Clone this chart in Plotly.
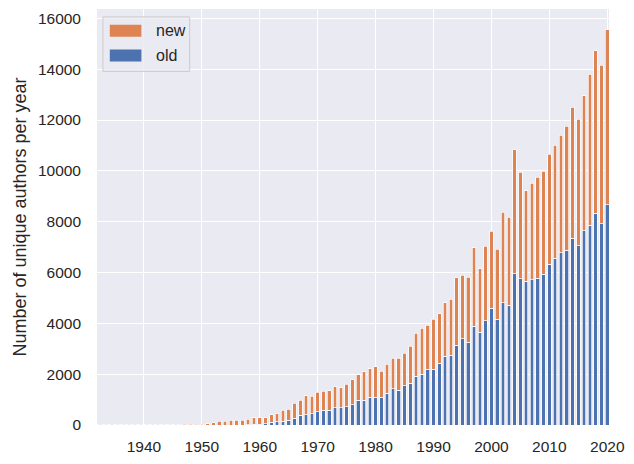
import plotly.graph_objects as go

years = list(range(1932, 2021))

old = [0]*26 + [
    10, 20, 25, 40, 100, 130, 155, 195, 260, 390,          # 1958-1967
    410, 440, 520, 580, 580, 670, 670, 720, 800, 970,       # 1968-1977
    970, 1100, 1100, 1100, 1240, 1420, 1360, 1550, 1650, 1910,  # 1978-1987
    1990, 2200, 2200, 2430, 2710, 2740, 3140, 3400, 3260, 3880,  # 1988-1997
    3650, 4110, 4590, 4160, 4820, 4710, 5960, 5750, 5650, 5720,  # 1998-2007
    5780, 5940, 6330, 6560, 6770, 6870, 7340, 7050, 7650, 7860,  # 2008-2017
    8330, 7920, 8660,                                            # 2018-2020
]

new = [
    3, 2, 4, 3, 5, 4, 6, 5, 8, 6,                # 1932-1941
    5, 4, 6, 10, 14, 20, 25, 30, 38, 55,         # 1942-1951
    90, 150, 155, 190, 195, 195,                 # 1952-1957
    210, 265, 255, 250, 310, 320, 425, 425, 590, 585,   # 1958-1967
    750, 700, 760, 750, 770, 840, 800, 880, 980, 1000,  # 1968-1977
    1120, 1120, 1190, 1020, 1150, 1210, 1260, 1280, 1450, 1710,  # 1978-1987
    1810, 1720, 1960, 1940, 2110, 2210, 2650, 2500, 2550, 3100,  # 1988-1997
    2490, 2930, 3030, 2750, 3560, 3460, 4870, 4200, 3560, 3800,  # 1998-2007
    3960, 4050, 4330, 4450, 4640, 4890, 5170, 4990, 5300, 5940,  # 2008-2017
    6400, 6230, 6890,                                            # 2018-2020
]

x_ticks = [1940, 1950, 1960, 1970, 1980, 1990, 2000, 2010, 2020]
y_ticks = [0, 2000, 4000, 6000, 8000, 10000, 12000, 14000, 16000]

BLUE = "#4C72B0"
ORANGE = "#DD8452"
FONT = "Liberation Sans, Arial, sans-serif"

fig = go.Figure()
fig.add_trace(go.Bar(x=years, y=old, name="old", marker=dict(color=BLUE, line=dict(color="white", width=0.7)),
                     width=0.62, showlegend=False))
fig.add_trace(go.Bar(x=years, y=new, name="new", marker=dict(color=ORANGE, line=dict(color="white", width=0.7)),
                     width=0.62, showlegend=False))

# custom legend (matplotlib style)
shapes = [
    dict(type="rect", xref="paper", yref="paper", x0=0.0116, x1=0.181, y0=0.850, y1=0.981,
         fillcolor="rgba(234,234,242,0.8)", line=dict(color="#CCCCCC", width=1), layer="above"),
    dict(type="rect", xref="paper", yref="paper", x0=0.025, x1=0.0867, y0=0.9335, y1=0.962,
         fillcolor=ORANGE, line=dict(width=0), layer="above"),
    dict(type="rect", xref="paper", yref="paper", x0=0.025, x1=0.0867, y0=0.874, y1=0.9026,
         fillcolor=BLUE, line=dict(width=0), layer="above"),
]
annotations = [
    dict(xref="paper", yref="paper", x=0.1118, y=0.948, text="new", showarrow=False,
         xanchor="left", yanchor="middle", font=dict(size=16, color="#262626", family=FONT)),
    dict(xref="paper", yref="paper", x=0.1118, y=0.888, text="old", showarrow=False,
         xanchor="left", yanchor="middle", font=dict(size=16, color="#262626", family=FONT)),
]

fig.update_layout(
    width=634, height=464,
    margin=dict(l=97, r=18, t=9, b=34),
    barmode="stack",
    paper_bgcolor="white",
    plot_bgcolor="#EAEAF2",
    font=dict(family=FONT, size=15.5, color="#262626"),
    shapes=shapes,
    annotations=annotations,
    showlegend=False,
    xaxis=dict(range=[1931.9, 2020.3], tickmode="array", tickvals=x_ticks,
               ticktext=[str(t) for t in x_ticks], showgrid=True, gridcolor="white", gridwidth=1.3,
               zeroline=False, showline=False, ticks="", ticklabelstandoff=10,
               tickfont=dict(size=15.5)),
    yaxis=dict(range=[0, 16370], tickmode="array", tickvals=y_ticks,
               ticktext=[str(t) for t in y_ticks], showgrid=True, gridcolor="white", gridwidth=1.3,
               zeroline=False, showline=False, ticks="", ticklabelstandoff=15,
               tickfont=dict(size=15.5),
               title=dict(text="Number of unique authors per year", font=dict(size=18), standoff=6)),
)

fig.write_html("out.html", config={"displayModeBar": False},
               post_script="document.body.style.margin='0';")
